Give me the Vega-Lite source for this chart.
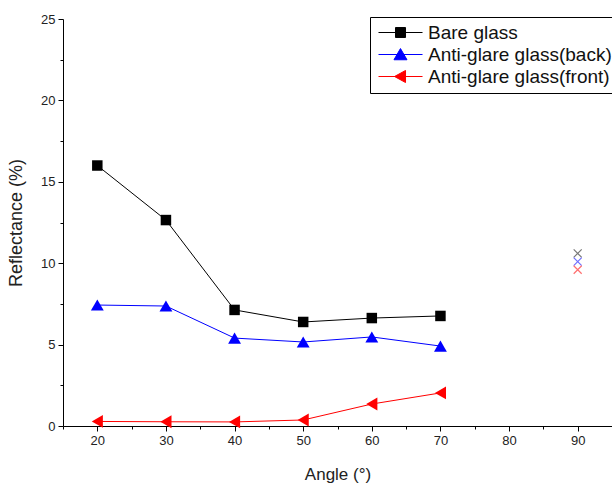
{
  "$schema": "https://vega.github.io/schema/vega-lite/v6.json",
  "width": 549,
  "height": 407,
  "autosize": {"type": "none"},
  "padding": {"left": 63, "top": 19, "right": 0, "bottom": 61},
  "background": "white",
  "config": {
    "font": "Liberation Sans",
    "view": {"stroke": null},
    "axis": {"labelFont": "Liberation Sans", "titleFont": "Liberation Sans", "domainColor": "#000", "tickColor": "#000", "labelColor": "#222", "titleColor": "#222", "grid": false, "titleFontWeight": "normal"}
  },
  "datasets": {
    "main": [
      {"angle": 20, "refl": 16.0, "series": "Bare glass"},
      {"angle": 30, "refl": 12.65, "series": "Bare glass"},
      {"angle": 40, "refl": 7.13, "series": "Bare glass"},
      {"angle": 50, "refl": 6.39, "series": "Bare glass"},
      {"angle": 60, "refl": 6.63, "series": "Bare glass"},
      {"angle": 70, "refl": 6.76, "series": "Bare glass"},
      {"angle": 20, "refl": 7.43, "series": "Anti-glare glass(back)"},
      {"angle": 30, "refl": 7.37, "series": "Anti-glare glass(back)"},
      {"angle": 40, "refl": 5.4, "series": "Anti-glare glass(back)"},
      {"angle": 50, "refl": 5.16, "series": "Anti-glare glass(back)"},
      {"angle": 60, "refl": 5.47, "series": "Anti-glare glass(back)"},
      {"angle": 70, "refl": 4.91, "series": "Anti-glare glass(back)"},
      {"angle": 20, "refl": 0.28, "series": "Anti-glare glass(front)"},
      {"angle": 30, "refl": 0.26, "series": "Anti-glare glass(front)"},
      {"angle": 40, "refl": 0.25, "series": "Anti-glare glass(front)"},
      {"angle": 50, "refl": 0.37, "series": "Anti-glare glass(front)"},
      {"angle": 60, "refl": 1.35, "series": "Anti-glare glass(front)"},
      {"angle": 70, "refl": 2.03, "series": "Anti-glare glass(front)"}
    ],
    "extra": [
      {"angle": 90, "refl": 10.6, "c": "#777777"},
      {"angle": 90, "refl": 10.1, "c": "#6f6fff"},
      {"angle": 90, "refl": 9.6, "c": "#ff6f6f"}
    ]
  },
  "resolve": {"axis": {"x": "independent", "y": "independent"}},
  "layer": [
    {
      "data": {"name": "main"},
      "mark": {"type": "line"},
      "encoding": {
        "x": {"field": "angle", "type": "quantitative", "scale": {"domain": [15, 95], "nice": false, "zero": false},
          "axis": {"orient": "bottom", "values": [20, 30, 40, 50, 60, 70, 80, 90], "tickSize": 5, "labelFontSize": 13, "labelPadding": 3, "title": "Angle (°)", "titleFontSize": 17, "titlePadding": 19}},
        "y": {"field": "refl", "type": "quantitative", "scale": {"domain": [0, 25], "nice": false},
          "axis": {"orient": "left", "values": [0, 5, 10, 15, 20, 25], "tickSize": 5, "labelFontSize": 13, "labelPadding": 3, "title": "Reflectance (%)", "titleFontSize": 18, "titlePadding": 15}},
        "color": {"field": "series", "type": "nominal",
          "scale": {"domain": ["Bare glass", "Anti-glare glass(back)", "Anti-glare glass(front)"], "range": ["#000000", "#0000ff", "#ff0000"]},
          "legend": {
            "orient": "none", "legendX": 307, "legendY": -2, "title": null,
            "strokeColor": "#000", "fillColor": "white", "padding": 6,
            "labelFontSize": 19, "labelFont": "Liberation Sans", "labelColor": "#111", "labelLimit": 400,
            "symbolSize": 196, "labelOffset": 33, "rowPadding": 2,
            "symbolType": "M-1,0H5.29M1.43,-0.71H2.86V0.71H1.43Z",
            "encode": {"symbols": {"update": {
              "shape": {"signal": "datum.label === 'Bare glass' ? 'M-1,0H5.29M1.43,-0.71H2.86V0.71H1.43Z' : (datum.label === 'Anti-glare glass(back)' ? 'M-1,0H5.29M2.14,-0.85L3.07,0.75L1.21,0.75Z' : 'M-1,0H5.29M1.29,0L2.86,-0.86L2.86,0.86Z')"},
              "fill": {"signal": "scale('color', datum.value)"},
              "stroke": {"signal": "scale('color', datum.value)"},
              "strokeWidth": {"value": 1},
              "opacity": {"value": 1}
            }}}
          }},
        "strokeWidth": {"field": "series", "type": "nominal", "scale": {"domain": ["Bare glass", "Anti-glare glass(back)", "Anti-glare glass(front)"], "range": [1, 1, 1.5]}, "legend": null}
      }
    },
    {
      "data": {"name": "main"},
      "transform": [{"filter": "datum.series === 'Bare glass'"}],
      "mark": {"type": "point", "filled": true, "opacity": 1, "shape": "square", "size": 110, "color": "#000000"},
      "encoding": {
        "x": {"field": "angle", "type": "quantitative", "axis": null},
        "y": {"field": "refl", "type": "quantitative", "axis": null}
      }
    },
    {
      "data": {"name": "main"},
      "transform": [{"filter": "datum.series === 'Anti-glare glass(back)'"}],
      "mark": {"type": "point", "filled": true, "opacity": 1, "shape": "triangle-up", "size": 165, "color": "#0000ff"},
      "encoding": {
        "x": {"field": "angle", "type": "quantitative", "axis": null},
        "y": {"field": "refl", "type": "quantitative", "axis": null}
      }
    },
    {
      "data": {"name": "main"},
      "transform": [{"filter": "datum.series === 'Anti-glare glass(front)'"}],
      "mark": {"type": "point", "filled": true, "opacity": 1, "shape": "triangle-left", "size": 165, "color": "#ff0000"},
      "encoding": {
        "x": {"field": "angle", "type": "quantitative", "axis": null},
        "y": {"field": "refl", "type": "quantitative", "axis": null}
      }
    },
    {
      "data": {"name": "extra"},
      "mark": {"type": "point", "shape": "M-1,-1L1,1M-1,1L1,-1", "filled": false, "size": 64, "strokeWidth": 1.2, "opacity": 1},
      "encoding": {
        "x": {"field": "angle", "type": "quantitative", "axis": null},
        "y": {"field": "refl", "type": "quantitative", "axis": null},
        "stroke": {"field": "c", "type": "nominal", "scale": null}
      }
    },
    {
      "data": {"values": [{"a": 15, "b": 0}]},
      "mark": {"type": "point", "opacity": 0},
      "encoding": {
        "x": {"field": "a", "type": "quantitative", "axis": {"orient": "bottom", "values": [15, 25, 35, 45, 55, 65, 75, 85, 95], "tickSize": 3, "labels": false, "domain": false, "title": null}},
        "y": {"field": "b", "type": "quantitative", "axis": {"orient": "left", "values": [2.5, 7.5, 12.5, 17.5, 22.5], "tickSize": 3, "labels": false, "domain": false, "title": null}}
      }
    }
  ]
}
